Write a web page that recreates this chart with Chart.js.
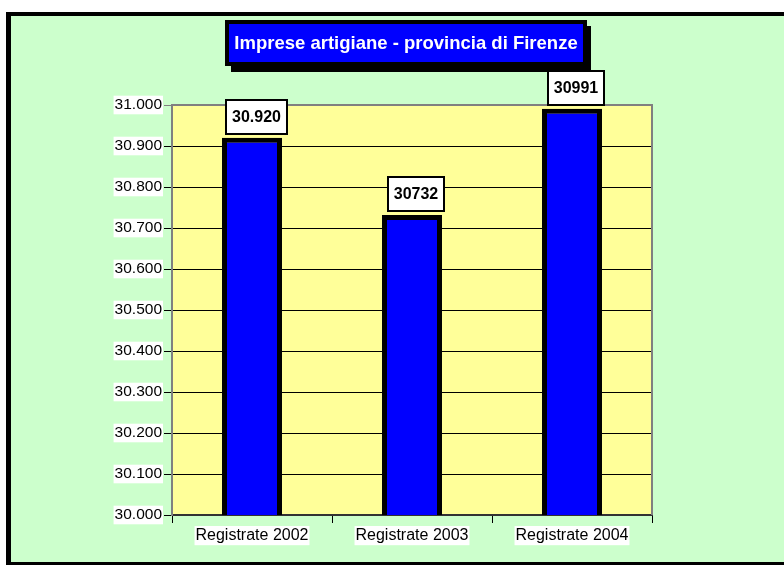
<!DOCTYPE html>
<html>
<head>
<meta charset="utf-8">
<script src="https://cdn.jsdelivr.net/npm/chart.js@4/dist/chart.umd.min.js"></script>
<style>
  html, body { margin: 0; padding: 0; background: #ffffff; }
  #wrap { width: 784px; height: 565px; position: relative; }
</style>
</head>
<body>
<div id="wrap"><canvas id="c" width="784" height="565"></canvas></div>
<script>
const chartTitle = 'Imprese artigiane - provincia di Firenze';
const categories = ['Registrate 2002', 'Registrate 2003', 'Registrate 2004'];
const values = [30920, 30732, 30991];
const valueLabels = ['30.920', '30732', '30991'];
const yTickLabels = ['30.000', '30.100', '30.200', '30.300', '30.400', '30.500',
                     '30.600', '30.700', '30.800', '30.900', '31.000'];
const yMin = 30000, yMax = 31000, yStep = 100;

const FONT = "'Liberation Sans', Arial, sans-serif";

const framePlugin = {
  id: 'frame',
  beforeDraw(chart) {
    const ctx = chart.ctx;
    ctx.save();
    ctx.fillStyle = '#ffffff';
    ctx.fillRect(0, 0, chart.width, chart.height);
    ctx.fillStyle = '#000000';
    ctx.fillRect(6, 12, 800, 560);
    ctx.fillStyle = '#CCFFCC';
    ctx.fillRect(11, 16, 800, 546);
    const a = chart.chartArea;
    ctx.fillStyle = '#FFFF99';
    ctx.fillRect(a.left, a.top, a.right - a.left, a.bottom - a.top);
    // title box
    ctx.fillStyle = '#000000';
    ctx.fillRect(231, 26, 360, 46);
    ctx.fillRect(225, 20, 362, 46);
    ctx.fillStyle = '#0000FF';
    ctx.fillRect(229, 24, 354, 38);
    ctx.fillStyle = '#ffffff';
    ctx.font = 'bold 18.5px ' + FONT;
    ctx.textAlign = 'center';
    ctx.textBaseline = 'middle';
    ctx.fillText(chartTitle, 406, 44);
    ctx.restore();
  },
  beforeDatasetsDraw(chart) {
    const ctx = chart.ctx;
    const a = chart.chartArea;
    ctx.save();
    ctx.strokeStyle = '#808080';
    ctx.lineWidth = 2;
    ctx.beginPath();
    ctx.moveTo(a.left, a.top);
    ctx.lineTo(a.right, a.top);
    ctx.lineTo(a.right, a.bottom);
    ctx.stroke();
    ctx.restore();
  },
  afterDatasetsDraw(chart) {
    const ctx = chart.ctx;
    const meta = chart.getDatasetMeta(0);
    ctx.save();
    ctx.font = 'bold 16px ' + FONT;
    ctx.textAlign = 'center';
    ctx.textBaseline = 'middle';
    meta.data.forEach((bar, i) => {
      const txt = valueLabels[i];
      const w = Math.round(ctx.measureText(txt).width + 14);
      const h = 36;
      const cx = bar.x + 4;
      const bottom = bar.y - 3;
      const x0 = Math.round(cx - w / 2), y0 = Math.round(bottom - h);
      ctx.fillStyle = '#000000';
      ctx.fillRect(x0, y0, w, h);
      ctx.fillStyle = '#ffffff';
      ctx.fillRect(x0 + 2, y0 + 2, w - 4, h - 4);
      ctx.fillStyle = '#000000';
      ctx.fillText(txt, x0 + w / 2, y0 + h / 2 + 1);
    });
    ctx.restore();
  }
};

new Chart(document.getElementById('c'), {
  type: 'bar',
  data: {
    labels: categories,
    datasets: [{
      data: values,
      backgroundColor: '#0000FF',
      borderColor: '#000000',
      borderWidth: 5,
      borderSkipped: false,
      categoryPercentage: 0.375,
      barPercentage: 1.0
    }]
  },
  options: {
    responsive: false,
    animation: false,
    devicePixelRatio: 1,
    layout: { padding: { left: 0, top: 105, right: 132, bottom: 0 } },
    plugins: {
      legend: { display: false },
      title: { display: false },
      tooltip: { enabled: false }
    },
    scales: {
      x: {
        afterFit(s) { s.height = 50; },
        grid: { drawOnChartArea: false, drawTicks: true, tickLength: 8, color: '#000000', offset: true },
        border: { color: '#333333', width: 2 },
        ticks: {
          color: '#000000',
          font: { family: FONT, size: 16 },
          padding: 3,
          showLabelBackdrop: true,
          backdropColor: '#ffffff',
          backdropPadding: { left: 1, right: 1, top: 0, bottom: 0 }
        }
      },
      y: {
        min: yMin, max: yMax,
        afterFit(s) { s.width = 172; },
        grid: {
          color: (c) => (c.tick && c.tick.value === yMax) ? '#808080' : '#000000',
          lineWidth: 1,
          tickLength: 8
        },
        border: { color: '#808080', width: 2 },
        ticks: {
          stepSize: yStep,
          color: '#000000',
          font: { family: FONT, size: 15.5 },
          padding: 2,
          showLabelBackdrop: true,
          backdropColor: '#ffffff',
          backdropPadding: { left: 1, right: 1, top: 0, bottom: 0 },
          callback: (v) => yTickLabels[Math.round((v - yMin) / yStep)]
        }
      }
    }
  },
  plugins: [framePlugin]
});
</script>
</body>
</html>
